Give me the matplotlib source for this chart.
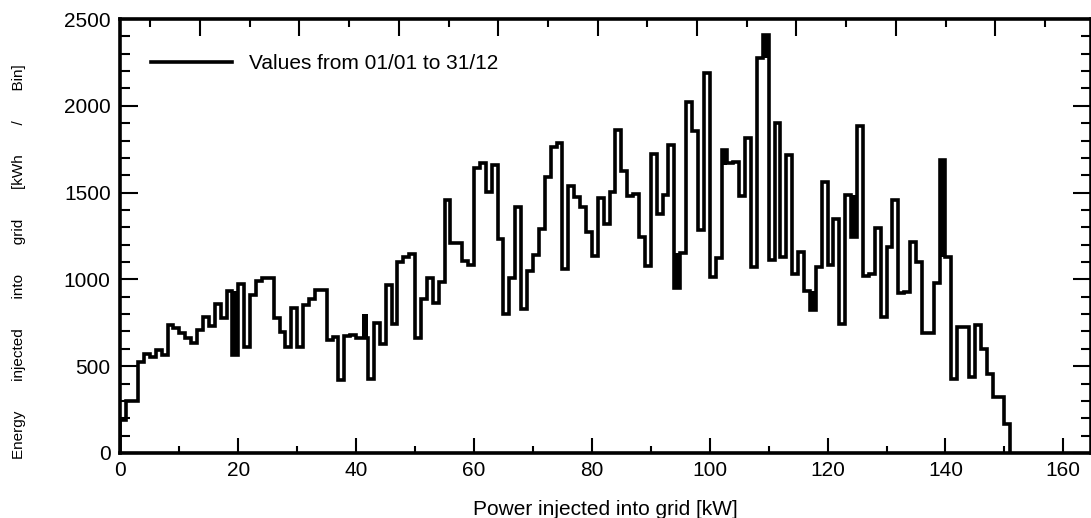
import numpy as np
import matplotlib.pyplot as plt
from matplotlib.ticker import MultipleLocator

plt.rcParams['font.family'] = ['Liberation Sans', 'DejaVu Sans']

# Energy fed into the grid per 1 kW power bin [kWh / Bin], bins start at 0 kW
energy = [
    190, 300, 300, 526, 568, 551, 593, 564, 737, 718,
    689, 660, 635, 708, 785, 731, 858, 776, 933, 564,
    975, 612, 910, 993, 1006, 1006, 775, 695, 610, 835,
    610, 855, 888, 940, 940, 650, 668, 418, 672, 680,
    662, 662, 424, 747, 625, 965, 745, 1102, 1127, 1146,
    663, 888, 1006, 864, 987, 1457, 1208, 1208, 1105, 1083,
    1640, 1669, 1502, 1659, 1234, 800, 1006, 1417, 830, 1050,
    1138, 1289, 1590, 1765, 1784, 1060, 1539, 1473, 1419, 1275,
    1136, 1471, 1318, 1505, 1863, 1623, 1481, 1494, 1243, 1080,
    1722, 1378, 1486, 1774, 949, 1150, 2024, 1857, 1285, 2187,
    1012, 1121, 1745, 1672, 1678, 1478, 1813, 1073, 2273, 2408,
    1112, 1899, 1131, 1717, 1031, 1160, 935, 824, 1073, 1563,
    1083, 1346, 743, 1486, 1246, 1884, 1020, 1031, 1294, 782,
    1188, 1457, 923, 929, 1217, 1102, 689, 689, 977, 1688,
    1131, 424, 728, 728, 436, 737, 597, 455, 321, 321,
    167,
]
bin_edges = np.arange(len(energy) + 1)

# bins drawn as solid blocks: (bin index, lower value, upper value)
solid_bins = [
    (19, 564, 933),
    (41, 662, 803),
    (94, 949, 1150),
    (102, 1660, 1745),
    (109, 2273, 2408),
    (117, 824, 935),
    (124, 1246, 1486),
    (139, 1131, 1688),
]

fig = plt.figure(figsize=(10.91, 5.18), dpi=100)
ax = fig.add_axes([0.1104, 0.1255, 0.8896, 0.8378])

ax.stairs(energy, bin_edges, color='black', linewidth=2.6, baseline=0,
          label='Values from 01/01 to 31/12')
for k, lo, hi in solid_bins:
    ax.fill_between([bin_edges[k], bin_edges[k + 1]], lo, hi,
                    color='black', linewidth=0)

ax.set_xlim(0, 164.7)
ax.set_ylim(0, 2500)
ax.xaxis.set_major_locator(MultipleLocator(20))
ax.xaxis.set_minor_locator(MultipleLocator(10))
ax.yaxis.set_major_locator(MultipleLocator(500))
ax.yaxis.set_minor_locator(MultipleLocator(100))

for s in ax.spines.values():
    s.set_linewidth(2.6)

ax.tick_params(axis='both', which='both', direction='in', width=1.5,
               labelsize=15, colors='black')
ax.tick_params(axis='x', which='major', length=11, pad=6)
ax.tick_params(axis='x', which='minor', length=5)
ax.tick_params(axis='y', which='major', length=13, pad=7, right=True)
ax.tick_params(axis='y', which='minor', length=7, right=True)

# top axis ticks
top = ax.twiny()
top.set_xlim(ax.get_xlim())
top.set_xticks(np.arange(13.49, 164.7, 16.87))
top.set_xticks(np.arange(5.06, 164.7, 16.87), minor=True)
top.tick_params(axis='x', which='major', direction='in', length=12, width=1.5, labeltop=False)
top.tick_params(axis='x', which='minor', direction='in', length=6, width=1.5)
for s in top.spines.values():
    s.set_visible(False)

ax.set_xlabel('Power injected into grid [kW]', fontsize=15, labelpad=14)
fig.text(0.017, 0.494,
         'Energy       injected       into       grid       [kWh       /       Bin]',
         rotation=90, fontsize=11, ha='center', va='center')

ax.legend(loc='upper left', frameon=False, fontsize=15, handlelength=3.9,
          handletextpad=0.8, borderaxespad=0.5, bbox_to_anchor=(0.012, 0.963))

fig.savefig('out.png', dpi=100)
